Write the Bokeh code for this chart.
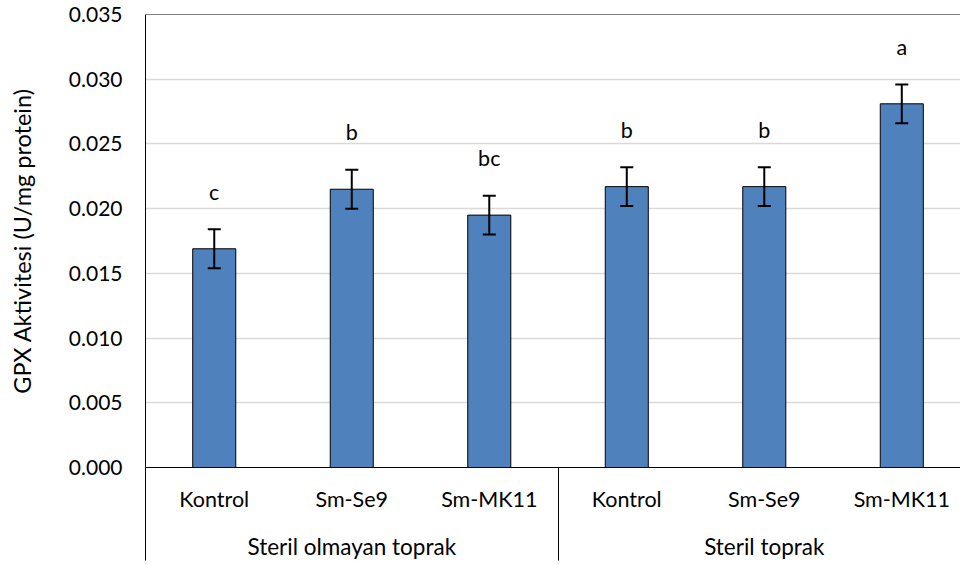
from bokeh.plotting import figure
from bokeh.models import (Range1d, LinearAxis, FixedTicker, NumeralTickFormatter, Grid,
                          ColumnDataSource, Whisker, TeeHead, Span)
from bokeh.core.properties import value
from bokeh.embed import file_html
from bokeh.resources import INLINE

# ---- data ----
groups = ["Steril olmayan toprak", "Steril toprak"]
treatments = ["Kontrol", "Sm-Se9", "Sm-MK11"]
means = [0.0169, 0.0215, 0.0195, 0.0217, 0.0217, 0.0281]
errors = [0.0015, 0.0015, 0.0015, 0.0015, 0.0015, 0.0015]
letters = ["c", "b", "bc", "b", "b", "a"]
y_ticks = [0.000, 0.005, 0.010, 0.015, 0.020, 0.025, 0.030, 0.035]
y_title = "GPX Aktivitesi (U/mg protein)"

# ---- style ----
FONT = "Lato"
TICK_FS = "21px"
CAT_FS = "21.5px"
GRP_FS = "22.5px"
TITLE_FS = "23.5px"
LETTER_FS = "21.5px"
BAR_COLOR = "#4F81BD"
GRID_COLOR = "#D9D9D9"
LETTER_GAP = 0.0029
X_END = 5.927
SEP_LEN = 93

n_t = len(treatments)
n = len(groups) * n_t
xs = [i + 0.5 for i in range(n)]
cat_labels = [treatments[i % n_t] for i in range(n)]
group_centers = [g * n_t + n_t / 2 for g in range(len(groups))]
separators = [g * n_t for g in range(len(groups))]

src = ColumnDataSource(dict(
    x=xs,
    top=means,
    upper=[m + e for m, e in zip(means, errors)],
    lower=[m - e for m, e in zip(means, errors)],
    letter_y=[m + e + LETTER_GAP for m, e in zip(means, errors)],
    letter=letters,
))

p = figure(width=960, height=565, output_backend="svg", toolbar_location=None,
           x_range=Range1d(0, X_END), y_range=Range1d(0, y_ticks[-1]),
           x_axis_type=None, y_axis_type=None,
           min_border_left=145, min_border_right=0, min_border_top=14, min_border_bottom=98,
           outline_line_color=None, background_fill_color="white", border_fill_color="white")

# y axis
yaxis = LinearAxis(ticker=FixedTicker(ticks=y_ticks), formatter=NumeralTickFormatter(format="0.000"),
                   axis_label=y_title, axis_label_text_font=FONT, axis_label_text_font_size=TITLE_FS,
                   axis_label_text_font_style="normal", axis_label_text_color="black",
                   axis_label_standoff=30,
                   major_label_text_font=FONT, major_label_text_font_size=TICK_FS,
                   major_label_text_color="black", major_label_standoff=23,
                   major_tick_in=0, major_tick_out=0, minor_tick_line_color=None,
                   axis_line_color="black", axis_line_width=1)
p.add_layout(yaxis, "left")
p.add_layout(Grid(dimension=1, ticker=yaxis.ticker, grid_line_color=GRID_COLOR, grid_line_width=1.3))

# category axis (group separator lines drawn as long minor ticks)
cat_axis = LinearAxis(ticker=FixedTicker(ticks=xs, minor_ticks=separators),
                      major_label_overrides={x: lab for x, lab in zip(xs, cat_labels)},
                      major_label_text_font=FONT, major_label_text_font_size=CAT_FS,
                      major_label_text_color="black", major_label_standoff=18 - SEP_LEN,
                      major_tick_in=0, major_tick_out=0,
                      minor_tick_in=0, minor_tick_out=SEP_LEN, minor_tick_line_color="black",
                      minor_tick_line_width=1,
                      axis_line_color="black", axis_line_width=1)
p.add_layout(cat_axis, "below")

grp_axis = LinearAxis(ticker=FixedTicker(ticks=group_centers),
                      major_label_overrides={x: lab for x, lab in zip(group_centers, groups)},
                      major_label_text_font=FONT, major_label_text_font_size=GRP_FS,
                      major_label_text_color="black", major_label_standoff=18,
                      major_tick_in=0, major_tick_out=0, minor_tick_line_color=None,
                      axis_line_color=None)
p.add_layout(grp_axis, "below")

# bars
p.vbar(x="x", top="top", bottom=0, width=0.313, source=src,
       fill_color=BAR_COLOR, line_color="black", line_width=1)

# error bars
p.add_layout(Whisker(base="x", upper="upper", lower="lower", source=src, level="overlay",
                     line_color="black", line_width=2,
                     upper_head=TeeHead(size=13, line_color="black", line_width=2),
                     lower_head=TeeHead(size=13, line_color="black", line_width=2)))

# significance letters
p.text(x="x", y="letter_y", text="letter", source=src, text_font=value(FONT),
       text_font_size=value(LETTER_FS), text_align="center", text_baseline="alphabetic",
       text_color="black")

# top border line
p.add_layout(Span(location=y_ticks[-1], dimension="width", line_color="black", line_width=1))

open("out.html", "w").write(file_html(p, INLINE))
